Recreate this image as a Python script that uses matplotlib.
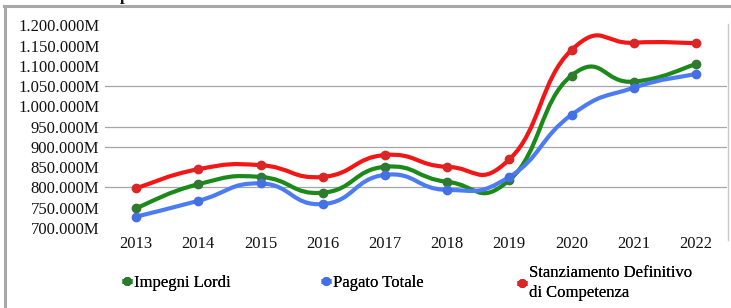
import matplotlib
matplotlib.use("Agg")
import matplotlib.pyplot as plt
from matplotlib.path import Path
from matplotlib.patches import PathPatch
from matplotlib.lines import Line2D
import numpy as np

plt.rcParams['font.family'] = ['Liberation Serif', 'DejaVu Serif']

years = ['2013', '2014', '2015', '2016', '2017', '2018', '2019', '2020', '2021', '2022']
impegni_lordi = [749000, 808000, 826000, 787000, 851000, 814000, 818000, 1076000, 1061000, 1104000]
pagato_totale = [728000, 767000, 810000, 759000, 831000, 794000, 826000, 979000, 1046000, 1080000]
stanziamento = [798000, 845000, 855000, 826000, 880000, 851000, 869000, 1139000, 1157000, 1156000]
series_names = ['Impegni Lordi', 'Pagato Totale', 'Stanziamento Definitivo\ndi Competenza']
y_ticks = [700000, 750000, 800000, 850000, 900000, 950000, 1000000, 1050000, 1100000, 1150000, 1200000]
grid_levels = [800000, 900000, 950000, 1050000]

line_colors = ['#1b8a1b', '#4d7cf2', '#f31616']
marker_colors = ['#2e7a2e', '#4470e4', '#d92626']

W, H = 731, 308
fig = plt.figure(figsize=(W / 100, H / 100), dpi=100)
ax = fig.add_axes([105 / W, (H - 228) / H, (727 - 105) / W, (228 - 25.3) / H])

x = np.arange(len(years))
ax.set_xlim(-0.5, len(years) - 0.5)
ax.set_ylim(y_ticks[0], y_ticks[-1])

for g in grid_levels:
    ax.axhline(g, color='#a6a6a6', lw=0.9, zorder=1)


def smooth_path(xs, ys, k=0.25):
    pts = np.column_stack([xs, ys]).astype(float)
    n = len(pts)
    verts = [pts[0]]
    codes = [Path.MOVETO]
    for i in range(n - 1):
        p0 = pts[i - 1] if i > 0 else pts[i]
        p1 = pts[i]
        p2 = pts[i + 1]
        p3 = pts[i + 2] if i + 2 < n else pts[i + 1]
        c1 = p1 + (p2 - p0) * k
        c2 = p2 - (p3 - p1) * k
        verts += [c1, c2, p2]
        codes += [Path.CURVE4] * 3
    return Path(verts, codes)


all_series = [impegni_lordi, pagato_totale, stanziamento]
handles = []
for i, (vals, name) in enumerate(zip(all_series, series_names)):
    path = smooth_path(x, vals)
    patch = PathPatch(path, facecolor='none', edgecolor=line_colors[i], lw=3,
                      capstyle='round', joinstyle='round', zorder=3 + i)
    ax.add_patch(patch)
    ax.plot(x, vals, linestyle='none', marker='o', markersize=6,
            markerfacecolor=marker_colors[i], markeredgecolor=marker_colors[i],
            zorder=3.5 + i)
    handles.append(Line2D([0], [0], color=line_colors[i], lw=3.5, marker='o',
                          markersize=5.5, markerfacecolor=marker_colors[i],
                          markeredgecolor=marker_colors[i], label=name,
                          solid_capstyle='butt'))

ax.set_xticks(x)
ax.set_xticklabels(years, fontsize=12)
ax.set_yticks(y_ticks)
ax.set_yticklabels([f"{v:,}".replace(',', '.') + 'M' for v in y_ticks], fontsize=12)
ax.tick_params(axis='both', length=0, colors='#111111')
ax.tick_params(axis='y', pad=4)
ax.tick_params(axis='x', pad=6)
for s in ax.spines.values():
    s.set_visible(False)

# legend entries placed one by one
legend_x = [122, 321, 517]
for h, lx in zip(handles, legend_x):
    lg = fig.legend(handles=[h], loc='center left',
                    bbox_to_anchor=(lx / W, (H - 283) / H), frameon=False,
                    fontsize=12, handlelength=0.6, handletextpad=0.1,
                    borderaxespad=0, borderpad=0)
    for t in lg.get_texts():
        t.set_linespacing(1.3)
    fig.add_artist(lg)

# outer frame
frame_kw = dict(color='#a8a8a8', lw=2.2, transform=fig.transFigure)
fig.add_artist(Line2D([5 / W, 5 / W], [0, (H - 6) / H], **frame_kw))
fig.add_artist(Line2D([4 / W, 731 / W], [(H - 6) / H, (H - 6) / H], **frame_kw))
fig.add_artist(Line2D([727.5 / W, 727.5 / W], [(H - 240) / H, (H - 24) / H],
                      color='#c8c8c8', lw=1.0, transform=fig.transFigure))

# cut-off title descender
fig.text(124 / W, (H - 0.5) / H, 'p', fontsize=12, fontweight='bold',
         ha='center', va='baseline', color='#111111')

fig.savefig('out.png', dpi=100)
